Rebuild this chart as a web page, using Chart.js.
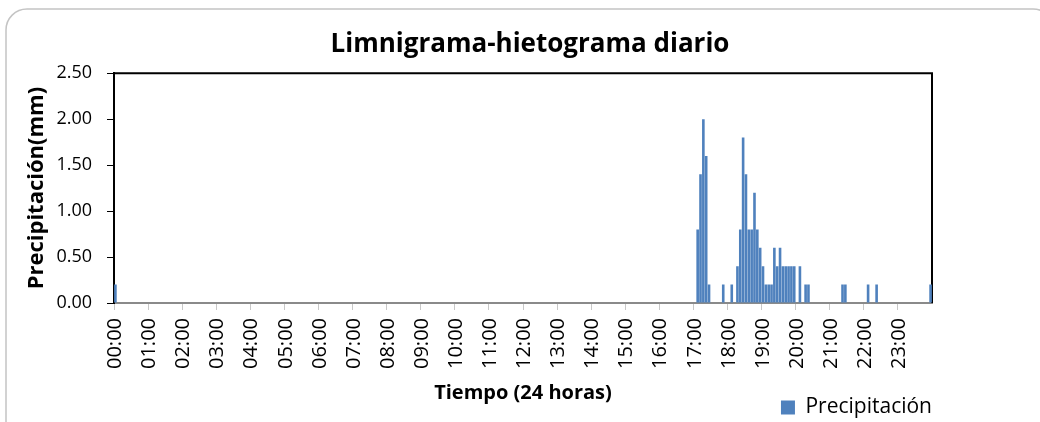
<!DOCTYPE html>
<html>
<head>
<meta charset="utf-8">
<script src="https://cdn.jsdelivr.net/npm/chart.js@4.4.0/dist/chart.umd.min.js"></script>
<style>
  html, body { margin: 0; padding: 0; background: #fff; }
  #wrap { position: relative; width: 1040px; height: 422px; overflow: hidden; }
</style>
</head>
<body>
<div id="wrap"><canvas id="chart" width="1040" height="422"></canvas></div>
<script>
// 5-minute rain readings, only the non-zero ones are listed
const rainTimes = [
  '00:00',
  '17:05', '17:10', '17:15', '17:20', '17:25', '17:50',
  '18:05', '18:15', '18:20', '18:25', '18:30', '18:35', '18:40', '18:45', '18:50', '18:55',
  '19:00', '19:05', '19:10', '19:15', '19:20', '19:25', '19:30', '19:35', '19:40', '19:45', '19:50', '19:55',
  '20:05', '20:15', '20:20',
  '21:20', '21:25', '22:05', '22:20', '23:55'
]
const rainValues = [
  0.2,
  0.8, 1.4, 2.0, 1.6, 0.2, 0.2,
  0.2, 0.4, 0.8, 1.8, 1.4, 0.8, 0.8, 1.2, 0.8, 0.6,
  0.4, 0.2, 0.2, 0.2, 0.6, 0.4, 0.6, 0.4, 0.4, 0.4, 0.4, 0.4,
  0.4, 0.2, 0.2,
  0.2, 0.2, 0.2, 0.2, 0.2
]
const hourLabels = [
  '00:00', '01:00', '02:00', '03:00', '04:00', '05:00', '06:00', '07:00',
  '08:00', '09:00', '10:00', '11:00', '12:00', '13:00', '14:00', '15:00',
  '16:00', '17:00', '18:00', '19:00', '20:00', '21:00', '22:00', '23:00'
]
const slotMinutes = ['00', '05', '10', '15', '20', '25', '30', '35', '40', '45', '50', '55']

// one category per 5-minute slot
const slots = hourLabels.flatMap(h => slotMinutes.map(m => h.slice(0, 3) + m))
const slotValues = slots.map(t => {
  const i = rainTimes.indexOf(t)
  return i >= 0 ? rainValues[i] : 0
})

const chartFrame = {
  id: 'chartFrame',
  beforeDraw(chart) {
    const { ctx } = chart
    ctx.save()
    ctx.fillStyle = '#fff'
    ctx.fillRect(0, 0, chart.width, chart.height)
    ctx.strokeStyle = '#c4c4c4'
    ctx.lineWidth = 1.5
    ctx.beginPath()
    ctx.roundRect(6, 9, 1048, 440, 21)
    ctx.stroke()
    ctx.restore()
  },
  beforeDatasetsDraw(chart) {
    // top and right edges of the plot area
    const { ctx, chartArea: a } = chart
    ctx.save()
    ctx.strokeStyle = '#000'
    ctx.lineWidth = 2
    ctx.beginPath()
    ctx.moveTo(a.left, a.top)
    ctx.lineTo(a.right, a.top)
    ctx.lineTo(a.right, a.bottom)
    ctx.stroke()
    ctx.restore()
  }
}

const font = 'Open Sans'

new Chart(document.getElementById('chart'), {
  type: 'bar',
  data: {
    labels: slots,
    datasets: [{
      label: 'Precipitación',
      data: slotValues,
      backgroundColor: '#4f81bd',
      borderWidth: 0,
      barPercentage: 0.92,
      categoryPercentage: 1.0
    }]
  },
  plugins: [chartFrame],
  options: {
    responsive: false,
    animation: false,
    layout: {
      padding: { left: 22, right: 2, top: 0, bottom: -6 }
    },
    plugins: {
      title: {
        display: true,
        text: 'Limnigrama-hietograma diario',
        color: '#000',
        font: { family: font, size: 26, weight: 'bold' },
        padding: { top: 29, bottom: 13 }
      },
      legend: {
        position: 'bottom',
        align: 'end',
        fullSize: false,
        labels: {
          boxWidth: 14,
          boxHeight: 14,
          padding: 0,
          color: '#000',
          font: { family: font, size: 21 }
        }
      },
      tooltip: { enabled: false }
    },
    scales: {
      x: {
        offset: true,
        grid: {
          offset: true,
          drawOnChartArea: false,
          drawTicks: true,
          tickLength: 7,
          color: function(context) {
            return context.index % 12 === 0 ? '#c8c8c8' : 'rgba(0,0,0,0)'
          }
        },
        border: { color: '#8a8a8a', width: 2 },
        ticks: {
          autoSkip: false,
          minRotation: 90,
          maxRotation: 90,
          padding: 8,
          color: '#000',
          font: { family: font, size: 20 },
          callback: function(value, index) {
            return index % 12 === 0 ? slots[index] : ''
          }
        },
        title: {
          display: true,
          text: 'Tiempo (24 horas)',
          color: '#000',
          font: { family: font, size: 20, weight: 'bold' },
          padding: { top: 0, bottom: -8 }
        },
        afterFit: function(scale) { scale.height = 94 }
      },
      y: {
        min: 0,
        max: 2.5,
        grid: {
          drawOnChartArea: false,
          drawTicks: true,
          tickLength: 7,
          color: '#000'
        },
        border: { color: '#000', width: 2 },
        ticks: {
          stepSize: 0.5,
          padding: 15,
          color: '#000',
          font: { family: font, size: 18 },
          callback: function(value) { return value.toFixed(2) }
        },
        title: {
          display: true,
          text: 'Precipitación(mm)',
          color: '#000',
          font: { family: font, size: 22, weight: 'bold' },
          padding: { top: 2, bottom: 0 }
        },
        afterFit: function(scale) { scale.width = 92 }
      },
      // empty strip right of the plot, as in the original sheet
      yRight: {
        position: 'right',
        grid: { display: false },
        border: { display: false },
        ticks: { display: false },
        afterFit: function(scale) { scale.width = 106 }
      }
    }
  }
})
</script>
</body>
</html>
